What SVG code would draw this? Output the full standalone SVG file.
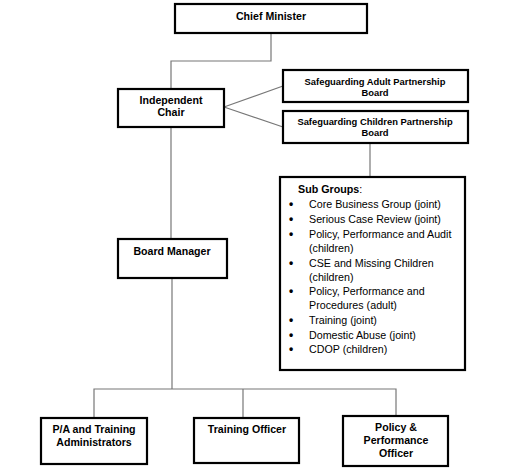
<svg xmlns="http://www.w3.org/2000/svg" width="513" height="469" viewBox="0 0 513 469">
<style>
.box{fill:#fff;stroke:#000;stroke-width:2.2}
.t{font-family:"Liberation Sans",Arial,sans-serif;font-weight:bold;font-size:10.6px;fill:#000;text-anchor:middle}
.s{font-size:9.4px}
.l{font-family:"Liberation Sans",Arial,sans-serif;font-size:10.7px;fill:#000}
.b{font-family:"Liberation Sans",Arial,sans-serif;font-size:12px;font-weight:bold;fill:#000}
.c{fill:none;stroke:#777;stroke-width:1.2}
</style>
<rect width="513" height="469" fill="#fff"/>
<g id="connectors">
<polyline class="c" points="271,33 271,61 171,61 171,89"/>
<line class="c" x1="224" y1="107" x2="283" y2="86"/>
<line class="c" x1="224" y1="107" x2="283" y2="127"/>
<line class="c" x1="171" y1="127" x2="171" y2="239"/>
<line class="c" x1="370" y1="143" x2="370" y2="177"/>
<polyline class="c" points="172,278 172,389"/>
<polyline class="c" points="94,418 94,389 396,389 396,416"/>
<line class="c" x1="243" y1="389" x2="243" y2="418"/>
</g>
<g id="chief-minister">
<rect class="box" x="175" y="4" width="192" height="29"/>
<text class="t" x="271" y="20">Chief Minister</text>
</g>
<g id="independent-chair">
<rect class="box" x="118" y="89" width="106" height="38"/>
<text class="t" x="171" y="104">Independent</text>
<text class="t" x="171" y="116">Chair</text>
</g>
<g id="adult-board">
<rect class="box" x="283" y="70" width="185" height="32"/>
<text class="t s" x="375" y="85">Safeguarding Adult Partnership</text>
<text class="t s" x="375" y="96">Board</text>
</g>
<g id="children-board">
<rect class="box" x="283" y="111" width="185" height="32"/>
<text class="t s" x="375" y="125">Safeguarding Children Partnership</text>
<text class="t s" x="375" y="136">Board</text>
</g>
<g id="sub-groups">
<rect class="box" x="280" y="177" width="185" height="193"/>
<text class="l" x="298" y="193" font-weight="bold">Sub Groups<tspan font-weight="normal">:</tspan></text>
<g class="b">
<text x="289" y="208">•</text>
<text x="289" y="223">•</text>
<text x="289" y="238">•</text>
<text x="289" y="267">•</text>
<text x="289" y="295">•</text>
<text x="289" y="324">•</text>
<text x="289" y="339">•</text>
<text x="289" y="353">•</text>
</g>
<g class="l">
<text x="309" y="208">Core Business Group (joint)</text>
<text x="309" y="223">Serious Case Review (joint)</text>
<text x="309" y="238">Policy, Performance and Audit</text>
<text x="309" y="252">(children)</text>
<text x="309" y="267">CSE and Missing Children</text>
<text x="309" y="281">(children)</text>
<text x="309" y="295">Policy, Performance and</text>
<text x="309" y="309">Procedures (adult)</text>
<text x="309" y="324">Training (joint)</text>
<text x="309" y="339">Domestic Abuse (joint)</text>
<text x="309" y="353">CDOP (children)</text>
</g>
</g>
<g id="board-manager">
<rect class="box" x="118" y="239" width="109" height="39"/>
<text class="t" x="172" y="255">Board Manager</text>
</g>
<g id="pa-admin">
<rect class="box" x="41" y="418" width="106" height="46"/>
<text class="t" x="94" y="433">P/A and Training</text>
<text class="t" x="94" y="446">Administrators</text>
</g>
<g id="training-officer">
<rect class="box" x="194" y="418" width="105" height="45"/>
<text class="t" x="247" y="433">Training Officer</text>
</g>
<g id="policy-officer">
<rect class="box" x="343" y="416" width="105" height="50"/>
<text class="t" x="396" y="431">Policy &amp;</text>
<text class="t" x="396" y="444">Performance</text>
<text class="t" x="396" y="457">Officer</text>
</g>
</svg>
